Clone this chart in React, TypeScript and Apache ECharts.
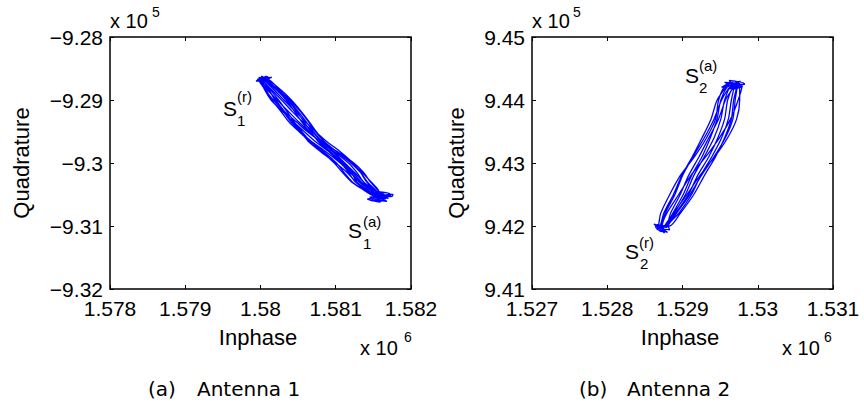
import React, { useEffect, useRef } from "react";
import * as echarts from "echarts";

// Axis ticks (display units: Inphase x 10^6, Quadrature x 10^5)
const xTicks1 = [1.578, 1.579, 1.58, 1.581, 1.582];
const yTicks1 = [-9.32, -9.31, -9.3, -9.29, -9.28];
const xTicks2 = [1.527, 1.528, 1.529, 1.53, 1.531];
const yTicks2 = [9.41, 9.42, 9.43, 9.44, 9.45];

// ---- Antenna 1: the trace sweeps back and forth between S1(r) and S1(a) ----
// Quadrature levels at which each sweep's Inphase value was read (top -> bottom)
const quadLevels1 = [-9.2868, -9.2885, -9.29, -9.2918, -9.2935, -9.295, -9.2965, -9.2982, -9.3, -9.3015, -9.303, -9.3042, -9.3052];
// Inphase value of each sweep at those levels
const inphaseSweeps1 = [
  [1.58003, 1.58012, 1.58019, 1.5803, 1.58041, 1.58053, 1.58067, 1.58087, 1.58106, 1.58119, 1.58131, 1.58145, 1.58158],
  [1.58008, 1.58025, 1.58039, 1.58053, 1.58064, 1.58073, 1.58084, 1.58101, 1.5812, 1.58133, 1.58142, 1.58152, 1.5816],
  [1.58, 1.58008, 1.58015, 1.58027, 1.58038, 1.58051, 1.58065, 1.58084, 1.58101, 1.58111, 1.58122, 1.58137, 1.58152],
  [1.58005, 1.58019, 1.58031, 1.58046, 1.5806, 1.58073, 1.58087, 1.58106, 1.58123, 1.58133, 1.58141, 1.58151, 1.58162],
  [1.57998, 1.5801, 1.58022, 1.58037, 1.58051, 1.58064, 1.58077, 1.58093, 1.58109, 1.5812, 1.58132, 1.58147, 1.58164],
  [1.58009, 1.58028, 1.58041, 1.58054, 1.58065, 1.58074, 1.58083, 1.58097, 1.58112, 1.58125, 1.58137, 1.5815, 1.58157],
  [1.58002, 1.58014, 1.58024, 1.58035, 1.58045, 1.58055, 1.58066, 1.58082, 1.58098, 1.58109, 1.58121, 1.58136, 1.5815],
  [1.58006, 1.58022, 1.58034, 1.58045, 1.58055, 1.58065, 1.58078, 1.58098, 1.58117, 1.58128, 1.58137, 1.58148, 1.58166],
  [1.57999, 1.58006, 1.58014, 1.58029, 1.58044, 1.58058, 1.58072, 1.58091, 1.5811, 1.58123, 1.58134, 1.58148, 1.58154],
  [1.58004, 1.58016, 1.58028, 1.58042, 1.58056, 1.58069, 1.5808, 1.58096, 1.58111, 1.58121, 1.58128, 1.58141, 1.58156],
  [1.5801, 1.58026, 1.58036, 1.58048, 1.58058, 1.58067, 1.58076, 1.58091, 1.58107, 1.58117, 1.58126, 1.58139, 1.58153],
  [1.58001, 1.58011, 1.5802, 1.58032, 1.58048, 1.58062, 1.58079, 1.58102, 1.58124, 1.58137, 1.58146, 1.58155, 1.58163],
  [1.58007, 1.58024, 1.58037, 1.5805, 1.58061, 1.5807, 1.58081, 1.58101, 1.58121, 1.58135, 1.58147, 1.58156, 1.58159],
  [1.57997, 1.58007, 1.58017, 1.58031, 1.58043, 1.58053, 1.58063, 1.5808, 1.581, 1.58115, 1.58127, 1.58142, 1.58155],
];
// Small wiggles at the turning points (Inphase, Quadrature), one group per turn
const turnWiggles1: [number, number][][] = [
  [[1.58166, -9.3057], [1.5815, -9.306], [1.58172, -9.3049], [1.58159, -9.3046]],
  [[1.58006, -9.2864], [1.57995, -9.2869], [1.58012, -9.2866]],
  [[1.5816, -9.3061], [1.58145, -9.3054], [1.58175, -9.3053], [1.58176, -9.305], [1.5817, -9.305]],
  [[1.58001, -9.2862], [1.58014, -9.287]],
  [[1.58155, -9.3058], [1.58168, -9.3061], [1.58148, -9.3049]],
  [[1.57996, -9.2867], [1.5801, -9.2863], [1.58004, -9.2873]],
  [[1.58163, -9.3055], [1.58142, -9.3057], [1.58158, -9.3062]],
  [[1.58012, -9.2868], [1.57998, -9.2864]],
  [[1.5817, -9.3056], [1.58152, -9.3051], [1.58164, -9.3059]],
  [[1.58008, -9.2862], [1.57994, -9.287]],
  [[1.58147, -9.306], [1.58169, -9.3053], [1.58156, -9.3047]],
  [[1.58003, -9.2866], [1.58015, -9.2864]],
  [[1.58161, -9.3057], [1.58173, -9.3052]],
];

// ---- Antenna 2: the trace sweeps back and forth between S2(r) and S2(a) ----
const quadLevels2 = [9.4422, 9.44, 9.437, 9.434, 9.431, 9.428, 9.425, 9.422, 9.42];
const inphaseSweeps2 = [
  [1.52964, 1.52952, 1.52942, 1.52929, 1.52914, 1.529, 1.5289, 1.52877, 1.52872],
  [1.52973, 1.5297, 1.52967, 1.52957, 1.52942, 1.52925, 1.5291, 1.52892, 1.52879],
  [1.52967, 1.52957, 1.52948, 1.52935, 1.52922, 1.52908, 1.52897, 1.52884, 1.52878],
  [1.52976, 1.52976, 1.52972, 1.5296, 1.52943, 1.52923, 1.52906, 1.52888, 1.52876],
  [1.52959, 1.52946, 1.52938, 1.52926, 1.52913, 1.52899, 1.52888, 1.52875, 1.5287],
  [1.5297, 1.52965, 1.52961, 1.52952, 1.52939, 1.52924, 1.52912, 1.52895, 1.52881],
  [1.52962, 1.52951, 1.52946, 1.52937, 1.52926, 1.52912, 1.52901, 1.52887, 1.52877],
  [1.52979, 1.52974, 1.52964, 1.52949, 1.52931, 1.52911, 1.52895, 1.52879, 1.52873],
  [1.52968, 1.5296, 1.52956, 1.52947, 1.52935, 1.5292, 1.52908, 1.52891, 1.5288],
  [1.52957, 1.52948, 1.52944, 1.52932, 1.52916, 1.52897, 1.52883, 1.52871, 1.52868],
  [1.52972, 1.52968, 1.52965, 1.52956, 1.52944, 1.52929, 1.52915, 1.52897, 1.52883],
  [1.52965, 1.52956, 1.52951, 1.52942, 1.52929, 1.52915, 1.52904, 1.52889, 1.52878],
];
const turnWiggles2: [number, number][][] = [
  [[1.52975, 9.4428], [1.52958, 9.4425], [1.5298, 9.4421], [1.52966, 9.4417]],
  [[1.5287, 9.4195], [1.5288, 9.419], [1.52866, 9.4202]],
  [[1.52962, 9.4431], [1.52982, 9.4426], [1.52971, 9.4418]],
  [[1.52872, 9.4191], [1.52864, 9.4199]],
  [[1.52952, 9.442], [1.52969, 9.443], [1.52978, 9.4423]],
  [[1.52883, 9.4194], [1.52868, 9.4197]],
  [[1.52973, 9.4419], [1.52956, 9.4428]],
  [[1.52876, 9.4189], [1.52862, 9.4203], [1.52879, 9.4198]],
  [[1.52977, 9.443], [1.5296, 9.4417], [1.52983, 9.4425]],
  [[1.52866, 9.4194], [1.52874, 9.4201]],
  [[1.52964, 9.4426], [1.52975, 9.442]],
];

// chain the read sweeps into one continuous trace
function chainSweeps(levels: number[], sweeps: number[][], wiggles: [number, number][][], firstReversed: boolean) {
  const out: [number, number][] = [];
  sweeps.forEach((sw, k) => {
    const pts: [number, number][] = sw.map((v, i) => [v, levels[i]] as [number, number]);
    const rev = (k % 2 === 0) === firstReversed;
    (rev ? pts.reverse() : pts).forEach((p) => out.push(p));
    if (wiggles[k]) wiggles[k].forEach((p) => out.push(p));
  });
  return out;
}

const AX_FONT = "'Liberation Sans', Arial, Helvetica, sans-serif";
const CAP_FONT = "'DejaVu Sans', sans-serif";

const fmtX = (v: number) => String(Number(v.toFixed(3)));
const fmtY = (v: number) => String(Number(v.toFixed(2))).replace("-", "\u2212");

function makeAxes(ticks: number[], grid: number, dim: "x" | "y", fmt: (v: number) => string) {
  const step = Number((ticks[1] - ticks[0]).toFixed(6));
  const common = {
    gridIndex: grid,
    type: "value",
    min: ticks[0],
    max: ticks[ticks.length - 1],
    interval: step,
    splitLine: { show: false },
    axisLine: { show: false },
    axisTick: { show: true, inside: true, length: 4, lineStyle: { color: "#000", width: 1 } },
  };
  const main = {
    ...common,
    position: dim === "x" ? "bottom" : "left",
    axisLabel: {
      show: true,
      formatter: fmt,
      color: "#000",
      fontSize: 21,
      fontFamily: AX_FONT,
      margin: dim === "x" ? 9 : 7,
      showMinLabel: true,
      showMaxLabel: true,
    },
  };
  const mirror = {
    ...common,
    position: dim === "x" ? "top" : "right",
    axisLabel: { show: false },
  };
  return [main, mirror];
}

function txt(text: string, x: number, y: number, size: number, opts: any = {}) {
  return {
    type: "text",
    x,
    y,
    rotation: opts.rotation || 0,
    style: {
      text,
      fill: "#000",
      fontSize: size,
      fontFamily: opts.font || AX_FONT,
      align: opts.align || "left",
      verticalAlign: "middle",
    },
  };
}

export default function App() {
  const ref = useRef<HTMLDivElement>(null);
  useEffect(() => {
    if (!ref.current) return;
    const chart = echarts.init(ref.current, null, { renderer: "svg" });
    const trace1 = chainSweeps(quadLevels1, inphaseSweeps1, turnWiggles1, false);
    const trace2 = chainSweeps(quadLevels2, inphaseSweeps2, turnWiggles2, true);
    const gridBase = { top: 37, width: 301, height: 252, show: true, borderColor: "#000", borderWidth: 1.5, containLabel: false };
    const xAxes = [...makeAxes(xTicks1, 0, "x", fmtX), ...makeAxes(xTicks2, 1, "x", fmtX)];
    const yAxes = [...makeAxes(yTicks1, 0, "y", fmtY), ...makeAxes(yTicks2, 1, "y", fmtY)];
    const lineSeries = (data: [number, number][], axis: number) => ({
      type: "line",
      xAxisIndex: axis,
      yAxisIndex: axis,
      data,
      showSymbol: false,
      smooth: 0.25,
      lineStyle: { color: "#0000ff", width: 1.3 },
    });
    chart.setOption({
      animation: false,
      backgroundColor: "#fff",
      grid: [
        { ...gridBase, left: 110 },
        { ...gridBase, left: 532 },
      ],
      xAxis: xAxes,
      yAxis: yAxes,
      series: [lineSeries(trace1, 0), lineSeries(trace2, 2)],
      graphic: [
        // exponent labels
        txt("x 10", 110, 21, 20),
        txt("5", 152, 12, 14),
        txt("x 10", 532, 21, 20),
        txt("5", 573, 12, 14),
        txt("x 10", 360, 348, 20),
        txt("6", 404, 337, 14),
        txt("x 10", 782, 348, 20),
        txt("6", 824, 337, 14),
        // axis titles
        txt("Inphase", 258, 337, 22, { align: "center" }),
        txt("Inphase", 680, 337, 22, { align: "center" }),
        txt("Quadrature", 21, 163, 22, { align: "center", rotation: Math.PI / 2 }),
        txt("Quadrature", 456, 163, 22, { align: "center", rotation: Math.PI / 2 }),
        // S annotations
        txt("S", 223, 108, 21),
        txt("(r)", 237, 96, 15),
        txt("1", 237, 120, 15),
        txt("S", 348, 230, 21),
        txt("(a)", 363, 221, 15),
        txt("1", 363, 243, 15),
        txt("S", 685, 75, 21),
        txt("(a)", 699, 65, 15),
        txt("2", 699, 87, 15),
        txt("S", 625, 251, 21),
        txt("(r)", 639, 242, 15),
        txt("2", 640, 263, 15),
        // captions
        txt("(a)", 148, 389, 20, { font: CAP_FONT }),
        txt("Antenna 1", 197, 389, 20, { font: CAP_FONT }),
        txt("(b)", 579, 389, 20, { font: CAP_FONT }),
        txt("Antenna 2", 627, 389, 20, { font: CAP_FONT }),
      ],
    });
    return () => chart.dispose();
  }, []);
  return <div ref={ref} style={{ position: "absolute", left: 0, top: 0, width: 864, height: 407 }} />;
}
